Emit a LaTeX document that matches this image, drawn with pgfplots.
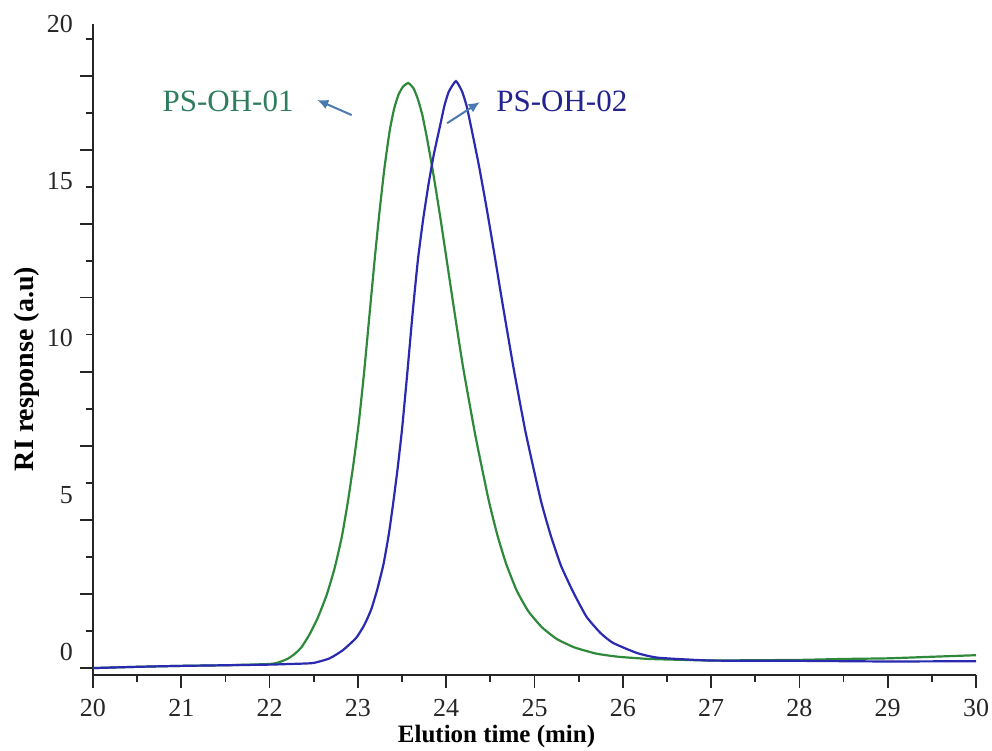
\documentclass[border=0pt]{standalone}
\usepackage{pgfplots}
\pgfplotsset{compat=1.18}
\usetikzlibrary{arrows.meta}
\usepackage{fontspec}
\setmainfont{Liberation Serif}
\definecolor{cgreen}{HTML}{2E8A3A}
\definecolor{cblue}{HTML}{2A2AB0}
\definecolor{tgreen}{HTML}{2E7D5E}
\definecolor{tblue}{HTML}{23238F}
\definecolor{carrow}{HTML}{4A7AB0}
\begin{document}
\begin{tikzpicture}
\begin{axis}[
  scale only axis,
  width=441.5pt, height=325.5pt,
  xmin=20, xmax=30, ymin=-0.73, ymax=20,
  axis lines=left,
  axis line style={-, line width=0.9pt, color=black!85},
  tick align=outside,
  major tick length=6.5pt, minor tick length=3.5pt,
  tick style={line width=0.9pt, color=black!85},
  xtick={20,...,30},
  minor x tick num=1,
  ytick={-0.51,1.85,4.21,6.57,8.93,11.29,13.62,15.98,18.34},
  yticklabels={},
  minor ytick={0.67,3.03,5.39,7.75,10.11,12.46,14.80,17.16,19.52},
  extra y ticks={0,5,10,15,20},
  extra y tick style={major tick length=0pt, yticklabel style={xshift=-6.5pt}},
  /pgf/number format/assume math mode=true,
  tick label style={font=\fontsize{13}{15}\selectfont, text=black!85},
  xticklabel style={yshift=-2pt},
  xlabel={\textbf{Elution time (min)}},
  xlabel style={font=\fontsize{12.5}{14}\selectfont, at={(rel axis cs:0.457,-0.0952)}, anchor=center},
  ylabel={\textbf{RI response (a.u)}},
  ylabel style={font=\fontsize{14}{16}\selectfont, at={(rel axis cs:-0.0747,0.47)}, anchor=center},
  clip=false,
]
\addplot[cgreen, line width=1.1pt, smooth, tension=0.3] coordinates {
(20.0,-0.51) (20.5,-0.47) (21.0,-0.44) (21.5,-0.42) (22.0,-0.38) (22.1,-0.33) (22.2,-0.22)
(22.28,-0.07) (22.36,0.15) (22.45,0.55) (22.55,1.12) (22.65,1.85) (22.74,2.71) (22.82,3.7)
(22.89,4.85) (22.95,6.0) (23.01,7.3) (23.07,8.9) (23.13,10.7) (23.19,12.5) (23.24,13.9)
(23.30,15.4) (23.36,16.6) (23.41,17.3) (23.46,17.75) (23.51,18.0) (23.57,18.12) (23.63,17.95)
(23.68,17.6) (23.73,17.1) (23.78,16.4) (23.85,15.3) (23.93,13.9) (24.01,12.4) (24.09,10.9)
(24.19,9.09) (24.33,6.9) (24.48,4.85) (24.58,3.72) (24.68,2.8) (24.80,1.95) (24.93,1.3)
(25.08,0.8) (25.25,0.42) (25.45,0.15) (25.7,-0.05) (25.95,-0.15) (26.3,-0.22) (26.7,-0.25)
(27.0,-0.27) (27.5,-0.26) (28.0,-0.25) (28.5,-0.22) (29.0,-0.2) (29.5,-0.15) (30.0,-0.1)
};
\addplot[cblue, line width=1.1pt, smooth, tension=0.3] coordinates {
(20.0,-0.51) (20.5,-0.47) (21.0,-0.44) (21.5,-0.42) (22.0,-0.4) (22.23,-0.38) (22.49,-0.35)
(22.68,-0.2) (22.83,0.06) (22.98,0.45) (23.07,0.85) (23.15,1.35) (23.22,2.0) (23.29,2.8)
(23.35,3.75) (23.40,4.75) (23.45,5.85) (23.50,7.1) (23.56,8.9) (23.62,10.8) (23.68,12.5)
(23.74,13.8) (23.80,14.9) (23.86,15.85) (23.93,16.75) (23.98,17.4) (24.03,17.85) (24.11,18.18)
(24.18,17.85) (24.23,17.4) (24.28,16.75) (24.37,15.5) (24.46,14.1) (24.55,12.6) (24.63,11.23)
(24.76,9.09) (24.90,6.99) (25.07,4.85) (25.18,3.75) (25.30,2.75) (25.44,1.9) (25.59,1.12)
(25.75,0.6) (25.89,0.29) (26.16,-0.03) (26.4,-0.18) (27.0,-0.27) (28.0,-0.28) (29.0,-0.3) (30.0,-0.29)
};
\node[text=tgreen, font=\fontsize{15.5}{17}\selectfont] at (axis cs:21.53,17.54) {PS-OH-01};
\node[text=tblue, font=\fontsize{15.5}{17}\selectfont] at (axis cs:25.31,17.54) {PS-OH-02};
\draw[carrow, line width=1pt, -{Latex[length=5.5pt,width=5pt]}] (axis cs:22.93,17.10) -- (axis cs:22.54,17.58);
\draw[carrow, line width=1pt, -{Latex[length=5.5pt,width=5pt]}] (axis cs:24.01,16.84) -- (axis cs:24.38,17.51);
\end{axis}
\pgfresetboundingbox
\path ([xshift=-46.5pt,yshift=-38pt]current axis.south west) rectangle ([xshift=8pt,yshift=12pt]current axis.north east);
\end{tikzpicture}
\end{document}
